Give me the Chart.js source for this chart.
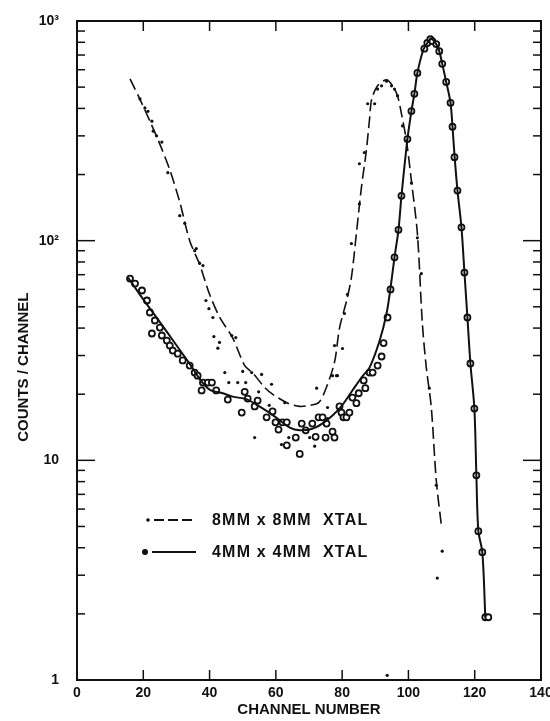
<!DOCTYPE html>
<html>
<head>
<meta charset="utf-8">
<script src="https://cdn.jsdelivr.net/npm/chart.js@4.4.0/dist/chart.umd.min.js"></script>
<style>
  html, body { margin: 0; padding: 0; background: #fff; }
</style>
</head>
<body>
<canvas id="spectrum" width="550" height="721"></canvas>
<script>
// tick values
const xTickValues = [0, 20, 40, 60, 80, 100, 120, 140];
const yTickValues = [1, 10, 100, 1000];
const yTickLabels = ['1', '10', '10²', '10³'];

// 8MM x 8MM XTAL - dashed curve
const dashX = [16, 19, 22, 25, 28, 31, 34, 37, 40, 43, 47, 50.6, 53, 56.6, 59, 63.6, 67.2, 70.2, 72.9, 75, 77.7, 79.2, 81.3, 82.8, 84.3, 85.8, 87.3, 88.3, 88.9, 90.7, 93.4, 95.2, 96.7, 97.9, 99.4, 100.9, 102.7, 104.2, 105.4, 106.9, 108.4, 110];
const dashY = [545, 440, 350, 275, 210, 150, 100, 78, 57, 45, 36, 27, 25, 21.5, 20, 18.2, 17.6, 17.8, 18.3, 21, 28, 40, 53, 68, 108, 174, 257, 362, 440, 507, 540, 507, 457, 378, 285, 187, 108, 42, 26.4, 17.4, 8.1, 4.96];

// 8MM x 8MM XTAL - measured points
const dotX = [19, 20.5, 21.4, 22.6, 23, 24, 25.6, 27.4, 31, 32.5, 35.5, 37, 36, 38, 38.9, 39.8, 41, 41.3, 42.5, 43, 46.7, 47.9, 44.6, 45.8, 48.5, 50.9, 50, 52.7, 55.7, 58.7, 54.8, 58, 62.7, 72.3, 75.6, 53.6, 61.7, 63.9, 70.2, 71.7, 75.6, 78.3, 77.1, 78.6, 77.7, 80.1, 80.7, 81.6, 82.8, 85.2, 85.2, 86.7, 87.7, 89.8, 90.7, 91.9, 93.4, 94.9, 95.8, 96.7, 98.2, 100.9, 102.7, 103.9, 106.3, 108.4, 110.2, 108.7, 93.6];
const dotY = [442, 402, 388, 350, 315, 300, 281, 204, 130, 120, 90, 79, 92, 77, 53.4, 49, 44.7, 36.6, 32.4, 34.4, 37, 36.2, 25.1, 22.6, 22.6, 22.6, 25.4, 25.1, 24.6, 22.2, 20.5, 17.8, 18.3, 21.3, 17.4, 12.7, 11.8, 12.7, 12.7, 11.6, 15.5, 24.3, 24.3, 24.3, 33.3, 32.3, 46.6, 56.9, 97, 147, 224, 252, 420, 420, 490, 507, 532, 507, 490, 457, 333, 183, 103, 70.8, 21.3, 7.7, 3.86, 2.91, 1.05];

// 4MM x 4MM XTAL - solid curve
const solidX = [15.4, 20, 25, 30, 34, 37, 40, 44, 47, 51, 54, 57.2, 60.5, 64.2, 67.2, 70.8, 74, 77.1, 80, 83.1, 86, 88.3, 91.3, 93.4, 94.6, 95.8, 97, 97.9, 99.7, 100.9, 101.8, 102.7, 104.5, 105.7, 106.9, 108.4, 109.3, 110.2, 111.4, 112.7, 113.3, 113.9, 114.8, 116, 116.9, 117.8, 118.7, 119.9, 120.5, 121.1, 122.3, 123.2];
const solidY = [68, 54, 42.6, 33.4, 27.5, 23.5, 21, 20.2, 19.5, 19, 18, 16.8, 15.5, 14.1, 13.7, 13.9, 14.7, 16, 17.8, 20.8, 24, 26.5, 35, 46.6, 61, 84, 112, 160, 290, 389, 466, 580, 740, 794, 828, 785, 729, 638, 528, 424, 330, 245, 169, 115, 71.6, 44.7, 27.6, 17.2, 8.55, 4.76, 3.82, 1.93];

// 4MM x 4MM XTAL - measured points
const circX = [16, 17.5, 19.6, 21.1, 22, 22.6, 23.5, 25, 25.6, 27.1, 28, 28.9, 30.4, 31.9, 34, 35.5, 36.4, 38, 39.5, 40.7, 37.6, 42, 45.5, 49.7, 50.6, 51.5, 54.5, 53.6, 57.2, 59, 59.9, 60.8, 62, 63.3, 66, 67.8, 69, 71, 72, 72.9, 74.1, 75.3, 75, 77.1, 77.7, 63.3, 67.2, 79.2, 79.8, 80.4, 81.3, 82.2, 83.1, 84.3, 85, 87, 86.5, 88.3, 89.2, 90.7, 91.9, 92.5, 93.7, 94.6, 95.8, 97, 97.9, 99.7, 100.9, 101.8, 102.7, 104.8, 105.7, 106.6, 107.2, 108.4, 109.3, 110.2, 111.4, 112.7, 113.3, 113.9, 114.8, 116, 116.9, 117.8, 118.7, 119.9, 120.5, 121.1, 122.3, 123.2, 124.1];
const circY = [67.2, 63.8, 59.3, 53.4, 47.1, 37.8, 43.3, 40.2, 37, 35.1, 33.3, 31.6, 30.6, 28.5, 27, 25.1, 24.3, 22.6, 22.6, 22.6, 20.8, 20.8, 18.9, 16.5, 20.5, 19.1, 18.7, 17.6, 15.7, 16.7, 14.9, 13.8, 14.9, 14.9, 12.7, 14.7, 13.7, 14.7, 12.8, 15.7, 15.7, 14.7, 12.7, 13.5, 12.7, 11.7, 10.7, 17.6, 16.5, 15.7, 15.7, 16.5, 19.3, 18.2, 20.2, 21.3, 23.1, 25.1, 25.1, 27, 29.7, 34.2, 44.7, 60, 84, 112, 160, 290, 389, 466, 580, 748, 794, 826, 810, 785, 729, 638, 528, 424, 330, 240, 169, 115, 71.6, 44.7, 27.6, 17.2, 8.55, 4.76, 3.82, 1.93, 1.93];

const toPoints = (xs, ys) => xs.map((v, i) => ({ x: v, y: ys[i] }));
const ink = '#111';

// rahmen, innenliegende striche und legende
const frameTicks = {
  id: 'frameTicks',
  afterDraw(chart) {
    const { ctx, chartArea: a, scales: { x, y } } = chart;
    const seg = (x1, y1, x2, y2) => { ctx.beginPath(); ctx.moveTo(x1, y1); ctx.lineTo(x2, y2); ctx.stroke(); };
    ctx.save();
    ctx.strokeStyle = ink;
    ctx.lineWidth = 2;
    ctx.strokeRect(a.left, a.top, a.right - a.left, a.bottom - a.top);
    ctx.lineWidth = 1.5;
    xTickValues.slice(1, -1).forEach(v => {
      const px = x.getPixelForValue(v);
      seg(px, a.bottom, px, a.bottom - 10);
      seg(px, a.top, px, a.top + 10);
    });
    [1, 10, 100].forEach(d => {
      for (let m = 1; m <= 9; m++) {
        if (m === 1 && d === 1) continue;
        const py = y.getPixelForValue(m * d);
        const len = m === 1 ? 18 : 8;
        seg(a.left, py, a.left + len, py);
        seg(a.right, py, a.right - len, py);
      }
    });

    // legende
    ctx.fillStyle = ink;
    ctx.font = 'bold 16px "Liberation Sans"';
    ctx.letterSpacing = '1.2px';
    ctx.textBaseline = 'middle';
    ctx.beginPath(); ctx.arc(148, 520, 1.8, 0, Math.PI * 2); ctx.fill();
    ctx.lineWidth = 1.8;
    ctx.setLineDash([10, 4]);
    seg(154, 520, 196, 520);
    ctx.setLineDash([]);
    ctx.fillText('8MM x 8MM  XTAL', 212, 521);
    ctx.beginPath(); ctx.arc(145, 552, 3, 0, Math.PI * 2); ctx.fill();
    ctx.lineWidth = 2;
    seg(152, 552, 196, 552);
    ctx.fillText('4MM x 4MM  XTAL', 212, 553);
    ctx.restore();
  }
};

const ctx = document.getElementById('spectrum').getContext('2d');
new Chart(ctx, {
  type: 'scatter',
  data: {
    datasets: [
      {
        label: '8MM x 8MM XTAL',
        data: toPoints(dashX, dashY),
        showLine: true,
        borderColor: ink,
        borderWidth: 1.6,
        borderDash: [12, 5],
        pointRadius: 0,
        tension: 0.3
      },
      {
        label: '4MM x 4MM XTAL',
        data: toPoints(solidX, solidY),
        showLine: true,
        borderColor: ink,
        borderWidth: 2,
        pointRadius: 0,
        tension: 0.3
      },
      {
        label: '8MM punkte',
        data: toPoints(dotX, dotY),
        pointRadius: 1.6,
        pointBackgroundColor: ink,
        pointBorderWidth: 0
      },
      {
        label: '4MM punkte',
        data: toPoints(circX, circY),
        pointRadius: 3,
        pointBorderWidth: 1.8,
        pointBorderColor: ink,
        pointBackgroundColor: '#fff'
      }
    ]
  },
  options: {
    responsive: false,
    animation: false,
    devicePixelRatio: 1,
    layout: { padding: { top: 21, right: 9, left: 0, bottom: 0 } },
    plugins: {
      legend: { display: false },
      tooltip: { enabled: false }
    },
    scales: {
      x: {
        type: 'linear',
        min: 0,
        max: 140,
        afterBuildTicks: s => { s.ticks = xTickValues.map(v => ({ value: v })); },
        afterFit: s => { s.height = 41; s.paddingLeft = 0; s.paddingRight = 0; },
        grid: { display: false, drawTicks: false },
        border: { display: false },
        ticks: { color: ink, padding: 5, font: { family: 'Liberation Sans', size: 14, weight: 'bold' } },
        title: {
          display: true,
          text: 'CHANNEL NUMBER',
          color: ink,
          padding: { top: 0, bottom: 2 },
          font: { family: 'Liberation Sans', size: 15, weight: 'bold' }
        }
      },
      y: {
        type: 'logarithmic',
        min: 1,
        max: 1000,
        afterBuildTicks: s => { s.ticks = yTickValues.map(v => ({ value: v })); },
        afterFit: s => { s.width = 77; s.paddingTop = 0; s.paddingBottom = 0; },
        grid: { display: false, drawTicks: false },
        border: { display: false },
        ticks: {
          color: ink,
          padding: 18,
          font: { family: 'Liberation Sans', size: 14, weight: 'bold' },
          callback: (v) => yTickLabels[yTickValues.indexOf(v)] ?? ''
        },
        title: {
          display: true,
          text: 'COUNTS / CHANNEL        ',
          color: ink,
          padding: { top: 15, bottom: 0 },
          font: { family: 'Liberation Sans', size: 15, weight: 'bold' }
        }
      }
    }
  },
  plugins: [frameTicks]
});
</script>
</body>
</html>
